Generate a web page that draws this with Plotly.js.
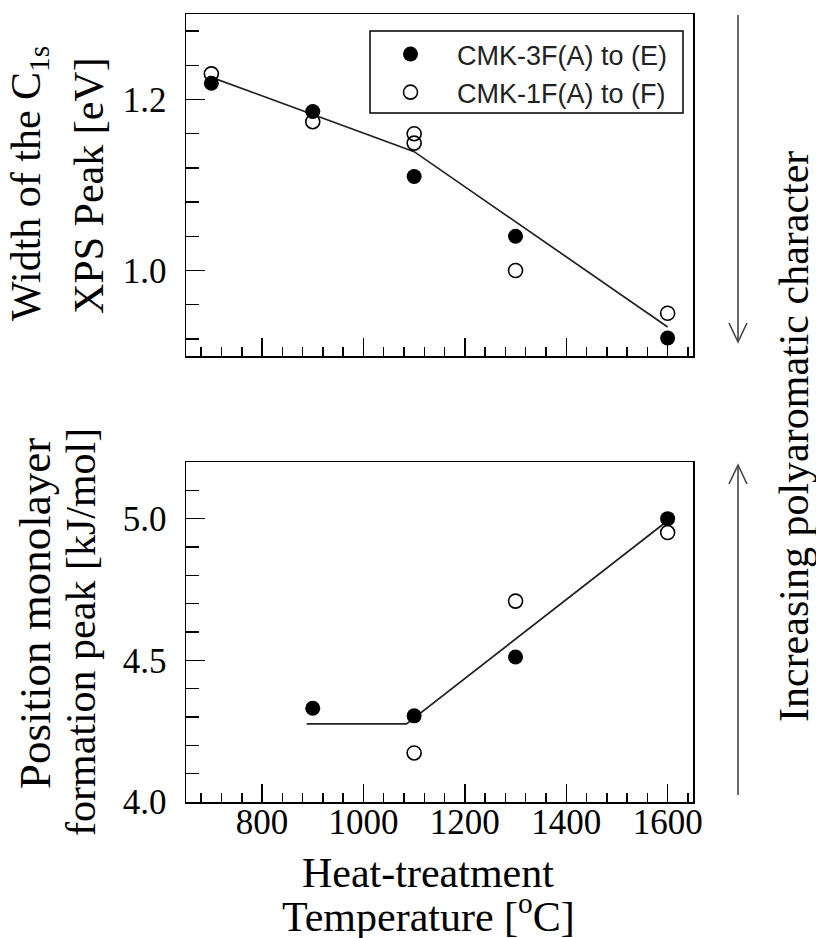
<!DOCTYPE html>
<html>
<head>
<meta charset="utf-8">
<script src="https://cdn.plot.ly/plotly-3.0.1.min.js"></script>
<style>html,body{margin:0;padding:0;background:#fff;}#chart{width:816px;height:938px;}</style>
</head>
<body>
<div id="chart"></div>
<script>
// ---- data ----
const seriesNames = ["CMK-3F(A) to (E)", "CMK-1F(A) to (F)"];

// Top panel: width of the C1s XPS peak [eV]
const topFilledT = [700, 900, 1100, 1300, 1600];
const topFilledW = [1.219, 1.186, 1.110, 1.040, 0.921];
const topOpenT = [700, 900, 1100, 1100, 1300, 1600];
const topOpenW = [1.230, 1.174, 1.160, 1.149, 1.000, 0.950];
const topFitT = [695, 1100, 1600];
const topFitW = [1.227, 1.139, 0.934];

// Bottom panel: position monolayer formation peak [kJ/mol]
const botFilledT = [900, 1100, 1300, 1600];
const botFilledE = [4.331, 4.304, 4.512, 5.000];
const botOpenT = [1100, 1300, 1600];
const botOpenE = [4.173, 4.709, 4.951];
const botFitT = [888, 1085, 1598];
const botFitE = [4.276, 4.276, 4.990];

const xTickVals = [800, 1000, 1200, 1400, 1600];

// ---- geometry helpers (pixel -> paper) ----
const L = 186, R = 693, T = 14, B = 802;
const px = x => (x - L) / (R - L);
const py = y => (B - y) / (B - T);

const serif = "Liberation Serif, Times New Roman, serif";
const sans = "Liberation Sans, Arial, sans-serif";

const filledMarker = {symbol: "circle", size: 15, color: "black"};
const openMarker = {symbol: "circle-open", size: 14, color: "black", line: {width: 1.6, color: "black"}};
const fitLine = {color: "#222", width: 1.7};

const traces = [
  {x: topFitT, y: topFitW, xaxis: "x", yaxis: "y", mode: "lines", line: fitLine, showlegend: false, hoverinfo: "skip"},
  {x: topFilledT, y: topFilledW, xaxis: "x", yaxis: "y", mode: "markers", marker: filledMarker, name: seriesNames[0], legendgroup: "a"},
  {x: topOpenT, y: topOpenW, xaxis: "x", yaxis: "y", mode: "markers", marker: openMarker, name: seriesNames[1], legendgroup: "b"},
  {x: botFitT, y: botFitE, xaxis: "x2", yaxis: "y2", mode: "lines", line: fitLine, showlegend: false, hoverinfo: "skip"},
  {x: botFilledT, y: botFilledE, xaxis: "x2", yaxis: "y2", mode: "markers", marker: filledMarker, showlegend: false},
  {x: botOpenT, y: botOpenE, xaxis: "x2", yaxis: "y2", mode: "markers", marker: openMarker, showlegend: false}
];

const xCommon = {
  range: [650, 1650], tickvals: xTickVals, ticks: "inside", ticklen: 18, tickwidth: 1.5, tickcolor: "black",
  minor: {dtick: 40, tick0: 0, ticks: "inside", ticklen: 9, tickwidth: 1.5, tickcolor: "black"},
  showline: true, mirror: true, linecolor: "black", linewidth: 1.5,
  showgrid: false, zeroline: false, tickfont: {family: serif, size: 35, color: "black"}
};

const yCommon = {
  tickformat: ".1f", tick0: 0,
  ticks: "inside", ticklen: 19, tickwidth: 1.5, tickcolor: "black",
  showline: true, mirror: true, linecolor: "black", linewidth: 1.5,
  showgrid: false, zeroline: false, ticklabelstandoff: 11,
  tickfont: {family: serif, size: 35, color: "black"}
};

const titleFont = {family: serif, size: 42, color: "black"};

const layout = {
  width: 816, height: 938,
  margin: {l: L, r: 816 - R, t: T, b: 938 - B},
  paper_bgcolor: "white", plot_bgcolor: "white",
  showlegend: true,
  xaxis: Object.assign({}, xCommon, {anchor: "y", domain: [0, 1], showticklabels: false}),
  yaxis: Object.assign({}, yCommon, {
    anchor: "x", domain: [py(356), 1], range: [0.9, 1.3], dtick: 0.2,
    minor: {dtick: 0.04, tick0: 0, ticks: "inside", ticklen: 13, tickwidth: 1.5, tickcolor: "black"}
  }),
  xaxis2: Object.assign({}, xCommon, {anchor: "y2", domain: [0, 1], showticklabels: true, ticklabelstandoff: -12}),
  yaxis2: Object.assign({}, yCommon, {
    anchor: "x2", domain: [0, py(462)], range: [4.0, 5.2], dtick: 0.5,
    minor: {dtick: 0.1, tick0: 0, ticks: "inside", ticklen: 13, tickwidth: 1.5, tickcolor: "black"}
  }),
  legend: {
    x: px(364), y: py(30), xanchor: "left", yanchor: "top",
    bgcolor: "rgba(0,0,0,0)", borderwidth: 0,
    font: {family: sans, size: 27, color: "#222"}, itemwidth: 83,
    tracegroupgap: 0, traceorder: "normal"
  },
  annotations: [
    {text: "Width of the C<sub>1s</sub>", x: px(29), y: py(184), xref: "paper", yref: "paper", textangle: -90, showarrow: false, xanchor: "center", yanchor: "middle", font: titleFont},
    {text: "XPS Peak [eV]", x: px(89), y: py(186), xref: "paper", yref: "paper", textangle: -90, showarrow: false, xanchor: "center", yanchor: "middle", font: titleFont},
    {text: "Position monolayer", x: px(35), y: py(614), xref: "paper", yref: "paper", textangle: -90, showarrow: false, xanchor: "center", yanchor: "middle", font: {family: serif, size: 45, color: "black"}},
    {text: "formation peak [kJ/mol]", x: px(81), y: py(632), xref: "paper", yref: "paper", textangle: -90, showarrow: false, xanchor: "center", yanchor: "middle", font: titleFont},
    {text: "Heat-treatment", x: px(428), y: py(873), height: 40, valign: "middle", xref: "paper", yref: "paper", showarrow: false, xanchor: "center", yanchor: "middle", font: titleFont},
    {text: "Temperature [<sup>o</sup>C]", x: px(428), y: py(913), xref: "paper", yref: "paper", showarrow: false, xanchor: "center", yanchor: "middle", font: titleFont},
    {text: "Increasing polyaromatic character", x: px(794), y: py(437), xref: "paper", yref: "paper", textangle: -90, showarrow: false, xanchor: "center", yanchor: "middle", font: titleFont}
  ],
  shapes: [
    {type: "rect", xref: "paper", yref: "paper", x0: px(370), x1: px(683), y0: py(31), y1: py(113), line: {color: "black", width: 1.5}, fillcolor: "rgba(0,0,0,0)"},
    {type: "line", xref: "paper", yref: "paper", x0: px(738), x1: px(738), y0: py(15), y1: py(342), line: {color: "#444", width: 1.6}},
    {type: "path", xref: "paper", yref: "paper", path: `M ${px(729)} ${py(323)} L ${px(738)} ${py(342)} L ${px(747)} ${py(323)}`, line: {color: "#444", width: 1.6}},
    {type: "line", xref: "paper", yref: "paper", x0: px(738), x1: px(738), y0: py(795), y1: py(465), line: {color: "#444", width: 1.6}},
    {type: "path", xref: "paper", yref: "paper", path: `M ${px(729)} ${py(484)} L ${px(738)} ${py(465)} L ${px(747)} ${py(484)}`, line: {color: "#444", width: 1.6}}
  ]
};

Plotly.newPlot("chart", traces, layout, {displayModeBar: false, staticPlot: true});
</script>
</body>
</html>
